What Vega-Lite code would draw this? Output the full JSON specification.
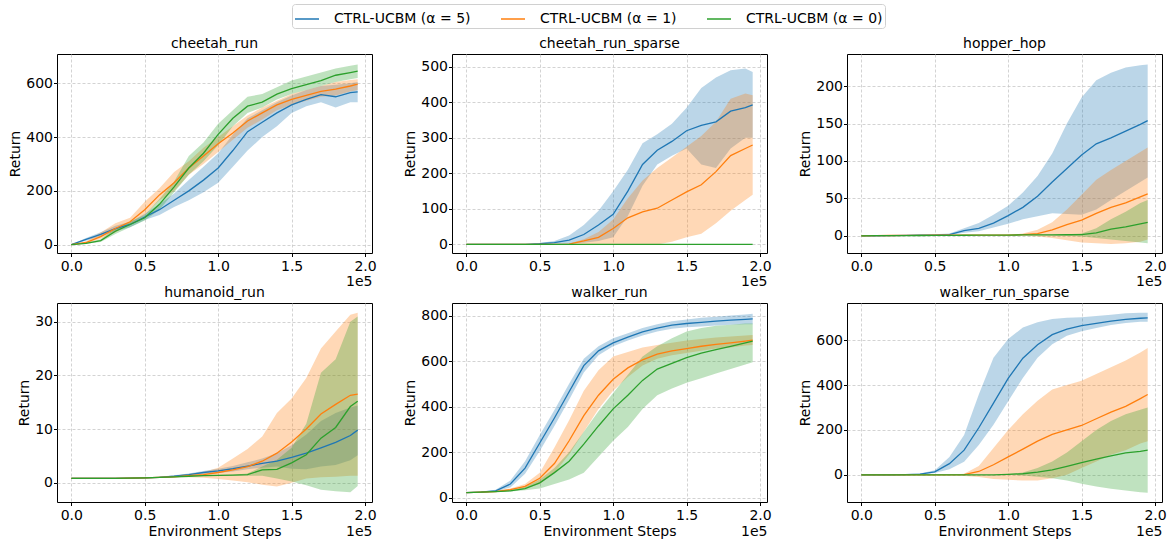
{
"$schema":"https://vega.github.io/schema/vega-lite/v6.json",
"padding":{"left":8,"top":3,"right":0,"bottom":0},
"bounds":"flush",
"columns":3,
"spacing":{"row":50,"column":80},
"data":{"values":[
{"e":"cr","s":"5","x":0,"m":0,"l":0,"h":0},
{"e":"cr","s":"5","x":10000,"m":20,"l":15,"h":25},
{"e":"cr","s":"5","x":20000,"m":38,"l":30,"h":46},
{"e":"cr","s":"5","x":30000,"m":60,"l":50,"h":70},
{"e":"cr","s":"5","x":40000,"m":75,"l":65,"h":85},
{"e":"cr","s":"5","x":50000,"m":103,"l":92,"h":115},
{"e":"cr","s":"5","x":60000,"m":130,"l":110,"h":150},
{"e":"cr","s":"5","x":70000,"m":165,"l":140,"h":190},
{"e":"cr","s":"5","x":80000,"m":200,"l":165,"h":240},
{"e":"cr","s":"5","x":90000,"m":240,"l":195,"h":290},
{"e":"cr","s":"5","x":100000,"m":285,"l":230,"h":340},
{"e":"cr","s":"5","x":110000,"m":350,"l":290,"h":410},
{"e":"cr","s":"5","x":120000,"m":420,"l":350,"h":470},
{"e":"cr","s":"5","x":130000,"m":455,"l":400,"h":500},
{"e":"cr","s":"5","x":140000,"m":490,"l":440,"h":530},
{"e":"cr","s":"5","x":150000,"m":520,"l":490,"h":555},
{"e":"cr","s":"5","x":160000,"m":540,"l":515,"h":575},
{"e":"cr","s":"5","x":170000,"m":558,"l":530,"h":590},
{"e":"cr","s":"5","x":180000,"m":550,"l":510,"h":595},
{"e":"cr","s":"5","x":190000,"m":565,"l":530,"h":600},
{"e":"cr","s":"5","x":195000,"m":568,"l":530,"h":605},
{"e":"cr","s":"1","x":0,"m":0,"l":0,"h":0},
{"e":"cr","s":"1","x":10000,"m":8,"l":4,"h":12},
{"e":"cr","s":"1","x":20000,"m":30,"l":22,"h":45},
{"e":"cr","s":"1","x":30000,"m":60,"l":45,"h":80},
{"e":"cr","s":"1","x":40000,"m":85,"l":75,"h":100},
{"e":"cr","s":"1","x":50000,"m":130,"l":110,"h":160},
{"e":"cr","s":"1","x":60000,"m":185,"l":165,"h":210},
{"e":"cr","s":"1","x":70000,"m":230,"l":200,"h":270},
{"e":"cr","s":"1","x":80000,"m":285,"l":260,"h":310},
{"e":"cr","s":"1","x":90000,"m":330,"l":300,"h":360},
{"e":"cr","s":"1","x":100000,"m":375,"l":345,"h":400},
{"e":"cr","s":"1","x":110000,"m":415,"l":390,"h":440},
{"e":"cr","s":"1","x":120000,"m":460,"l":435,"h":480},
{"e":"cr","s":"1","x":130000,"m":490,"l":465,"h":510},
{"e":"cr","s":"1","x":140000,"m":520,"l":500,"h":535},
{"e":"cr","s":"1","x":150000,"m":540,"l":520,"h":560},
{"e":"cr","s":"1","x":160000,"m":555,"l":535,"h":575},
{"e":"cr","s":"1","x":170000,"m":570,"l":550,"h":590},
{"e":"cr","s":"1","x":180000,"m":578,"l":555,"h":605},
{"e":"cr","s":"1","x":190000,"m":590,"l":570,"h":612},
{"e":"cr","s":"1","x":195000,"m":597,"l":575,"h":615},
{"e":"cr","s":"0","x":0,"m":0,"l":0,"h":0},
{"e":"cr","s":"0","x":10000,"m":5,"l":3,"h":7},
{"e":"cr","s":"0","x":20000,"m":15,"l":10,"h":20},
{"e":"cr","s":"0","x":30000,"m":50,"l":40,"h":60},
{"e":"cr","s":"0","x":40000,"m":75,"l":65,"h":85},
{"e":"cr","s":"0","x":50000,"m":100,"l":90,"h":110},
{"e":"cr","s":"0","x":60000,"m":150,"l":130,"h":170},
{"e":"cr","s":"0","x":70000,"m":215,"l":195,"h":235},
{"e":"cr","s":"0","x":80000,"m":285,"l":260,"h":330},
{"e":"cr","s":"0","x":90000,"m":340,"l":310,"h":380},
{"e":"cr","s":"0","x":100000,"m":410,"l":370,"h":450},
{"e":"cr","s":"0","x":110000,"m":470,"l":440,"h":500},
{"e":"cr","s":"0","x":120000,"m":515,"l":490,"h":550},
{"e":"cr","s":"0","x":130000,"m":530,"l":510,"h":560},
{"e":"cr","s":"0","x":140000,"m":560,"l":540,"h":585},
{"e":"cr","s":"0","x":150000,"m":580,"l":560,"h":610},
{"e":"cr","s":"0","x":160000,"m":595,"l":575,"h":625},
{"e":"cr","s":"0","x":170000,"m":610,"l":590,"h":640},
{"e":"cr","s":"0","x":180000,"m":630,"l":605,"h":655},
{"e":"cr","s":"0","x":190000,"m":640,"l":615,"h":665},
{"e":"cr","s":"0","x":195000,"m":645,"l":620,"h":670},
{"e":"crs","s":"5","x":0,"m":0,"l":0,"h":0},
{"e":"crs","s":"5","x":10000,"m":0,"l":0,"h":0},
{"e":"crs","s":"5","x":20000,"m":0,"l":0,"h":0},
{"e":"crs","s":"5","x":30000,"m":0,"l":0,"h":0},
{"e":"crs","s":"5","x":40000,"m":0,"l":0,"h":0},
{"e":"crs","s":"5","x":50000,"m":2,"l":0,"h":4},
{"e":"crs","s":"5","x":60000,"m":5,"l":0,"h":10},
{"e":"crs","s":"5","x":70000,"m":12,"l":2,"h":25},
{"e":"crs","s":"5","x":80000,"m":28,"l":5,"h":55},
{"e":"crs","s":"5","x":90000,"m":55,"l":10,"h":95},
{"e":"crs","s":"5","x":100000,"m":85,"l":20,"h":150},
{"e":"crs","s":"5","x":110000,"m":150,"l":80,"h":210},
{"e":"crs","s":"5","x":120000,"m":225,"l":165,"h":285},
{"e":"crs","s":"5","x":130000,"m":265,"l":225,"h":310},
{"e":"crs","s":"5","x":140000,"m":290,"l":250,"h":340},
{"e":"crs","s":"5","x":150000,"m":320,"l":270,"h":385},
{"e":"crs","s":"5","x":160000,"m":335,"l":225,"h":440},
{"e":"crs","s":"5","x":170000,"m":345,"l":215,"h":470},
{"e":"crs","s":"5","x":180000,"m":375,"l":270,"h":490},
{"e":"crs","s":"5","x":190000,"m":385,"l":300,"h":495},
{"e":"crs","s":"5","x":195000,"m":393,"l":300,"h":485},
{"e":"crs","s":"1","x":0,"m":0,"l":0,"h":0},
{"e":"crs","s":"1","x":10000,"m":0,"l":0,"h":0},
{"e":"crs","s":"1","x":20000,"m":0,"l":0,"h":0},
{"e":"crs","s":"1","x":30000,"m":0,"l":0,"h":0},
{"e":"crs","s":"1","x":40000,"m":0,"l":0,"h":0},
{"e":"crs","s":"1","x":50000,"m":0,"l":0,"h":0},
{"e":"crs","s":"1","x":60000,"m":0,"l":0,"h":0},
{"e":"crs","s":"1","x":70000,"m":1,"l":0,"h":3},
{"e":"crs","s":"1","x":80000,"m":10,"l":0,"h":15},
{"e":"crs","s":"1","x":90000,"m":20,"l":0,"h":35},
{"e":"crs","s":"1","x":100000,"m":45,"l":0,"h":70},
{"e":"crs","s":"1","x":110000,"m":75,"l":0,"h":130},
{"e":"crs","s":"1","x":120000,"m":92,"l":0,"h":180},
{"e":"crs","s":"1","x":130000,"m":102,"l":0,"h":215},
{"e":"crs","s":"1","x":140000,"m":125,"l":8,"h":245},
{"e":"crs","s":"1","x":150000,"m":148,"l":20,"h":275},
{"e":"crs","s":"1","x":160000,"m":168,"l":30,"h":305},
{"e":"crs","s":"1","x":170000,"m":205,"l":60,"h":345},
{"e":"crs","s":"1","x":180000,"m":250,"l":95,"h":410},
{"e":"crs","s":"1","x":190000,"m":270,"l":125,"h":425},
{"e":"crs","s":"1","x":195000,"m":280,"l":140,"h":420},
{"e":"crs","s":"0","x":0,"m":0,"l":0,"h":0},
{"e":"crs","s":"0","x":10000,"m":0,"l":0,"h":0},
{"e":"crs","s":"0","x":20000,"m":0,"l":0,"h":0},
{"e":"crs","s":"0","x":30000,"m":0,"l":0,"h":0},
{"e":"crs","s":"0","x":40000,"m":0,"l":0,"h":0},
{"e":"crs","s":"0","x":50000,"m":0,"l":0,"h":0},
{"e":"crs","s":"0","x":60000,"m":0,"l":0,"h":0},
{"e":"crs","s":"0","x":70000,"m":0,"l":0,"h":0},
{"e":"crs","s":"0","x":80000,"m":0,"l":0,"h":0},
{"e":"crs","s":"0","x":90000,"m":0,"l":0,"h":0},
{"e":"crs","s":"0","x":100000,"m":0,"l":0,"h":0},
{"e":"crs","s":"0","x":110000,"m":0,"l":0,"h":0},
{"e":"crs","s":"0","x":120000,"m":0,"l":0,"h":0},
{"e":"crs","s":"0","x":130000,"m":0,"l":0,"h":0},
{"e":"crs","s":"0","x":140000,"m":0,"l":0,"h":0},
{"e":"crs","s":"0","x":150000,"m":0,"l":0,"h":0},
{"e":"crs","s":"0","x":160000,"m":0,"l":0,"h":0},
{"e":"crs","s":"0","x":170000,"m":0,"l":0,"h":0},
{"e":"crs","s":"0","x":180000,"m":0,"l":0,"h":0},
{"e":"crs","s":"0","x":190000,"m":0,"l":0,"h":0},
{"e":"crs","s":"0","x":195000,"m":0,"l":0,"h":0},
{"e":"hh","s":"5","x":0,"m":0,"l":0,"h":0},
{"e":"hh","s":"5","x":10000,"m":0,"l":0,"h":0},
{"e":"hh","s":"5","x":20000,"m":0.2,"l":0,"h":0.5},
{"e":"hh","s":"5","x":30000,"m":0.5,"l":0.2,"h":1},
{"e":"hh","s":"5","x":40000,"m":0.8,"l":0.4,"h":1.5},
{"e":"hh","s":"5","x":50000,"m":1,"l":0.5,"h":2},
{"e":"hh","s":"5","x":60000,"m":1.5,"l":0.8,"h":3},
{"e":"hh","s":"5","x":70000,"m":7,"l":4,"h":10},
{"e":"hh","s":"5","x":80000,"m":10,"l":6,"h":17},
{"e":"hh","s":"5","x":90000,"m":17,"l":11,"h":28},
{"e":"hh","s":"5","x":100000,"m":27,"l":16,"h":40},
{"e":"hh","s":"5","x":110000,"m":38,"l":22,"h":58},
{"e":"hh","s":"5","x":120000,"m":53,"l":26,"h":80},
{"e":"hh","s":"5","x":130000,"m":72,"l":30,"h":110},
{"e":"hh","s":"5","x":140000,"m":90,"l":29,"h":150},
{"e":"hh","s":"5","x":150000,"m":108,"l":28,"h":185},
{"e":"hh","s":"5","x":160000,"m":123,"l":35,"h":208},
{"e":"hh","s":"5","x":170000,"m":131,"l":48,"h":218},
{"e":"hh","s":"5","x":180000,"m":140,"l":60,"h":225},
{"e":"hh","s":"5","x":190000,"m":149,"l":72,"h":228},
{"e":"hh","s":"5","x":195000,"m":154,"l":78,"h":229},
{"e":"hh","s":"1","x":0,"m":0,"l":0,"h":0},
{"e":"hh","s":"1","x":10000,"m":0.2,"l":0.1,"h":0.3},
{"e":"hh","s":"1","x":20000,"m":0.4,"l":0.2,"h":0.6},
{"e":"hh","s":"1","x":30000,"m":0.5,"l":0.3,"h":0.7},
{"e":"hh","s":"1","x":40000,"m":0.6,"l":0.4,"h":0.8},
{"e":"hh","s":"1","x":50000,"m":0.7,"l":0.5,"h":0.9},
{"e":"hh","s":"1","x":60000,"m":0.8,"l":0.6,"h":1},
{"e":"hh","s":"1","x":70000,"m":0.9,"l":0.7,"h":1.1},
{"e":"hh","s":"1","x":80000,"m":1,"l":0.8,"h":1.2},
{"e":"hh","s":"1","x":90000,"m":1,"l":0.8,"h":1.2},
{"e":"hh","s":"1","x":100000,"m":1,"l":0.8,"h":1.3},
{"e":"hh","s":"1","x":110000,"m":1.5,"l":0,"h":3},
{"e":"hh","s":"1","x":120000,"m":3,"l":-1,"h":8},
{"e":"hh","s":"1","x":130000,"m":8,"l":-3,"h":18},
{"e":"hh","s":"1","x":140000,"m":15,"l":-6,"h":35},
{"e":"hh","s":"1","x":150000,"m":21,"l":-9,"h":55},
{"e":"hh","s":"1","x":160000,"m":30,"l":-10,"h":75},
{"e":"hh","s":"1","x":170000,"m":38,"l":-11,"h":88},
{"e":"hh","s":"1","x":180000,"m":44,"l":-10,"h":100},
{"e":"hh","s":"1","x":190000,"m":52,"l":-8,"h":112},
{"e":"hh","s":"1","x":195000,"m":56,"l":-5,"h":118},
{"e":"hh","s":"0","x":0,"m":0,"l":0,"h":0},
{"e":"hh","s":"0","x":10000,"m":0.1,"l":0,"h":0.2},
{"e":"hh","s":"0","x":20000,"m":0.2,"l":0.1,"h":0.3},
{"e":"hh","s":"0","x":30000,"m":0.3,"l":0.2,"h":0.4},
{"e":"hh","s":"0","x":40000,"m":0.4,"l":0.3,"h":0.5},
{"e":"hh","s":"0","x":50000,"m":0.5,"l":0.4,"h":0.6},
{"e":"hh","s":"0","x":60000,"m":0.6,"l":0.5,"h":0.7},
{"e":"hh","s":"0","x":70000,"m":0.7,"l":0.6,"h":0.8},
{"e":"hh","s":"0","x":80000,"m":0.8,"l":0.7,"h":0.9},
{"e":"hh","s":"0","x":90000,"m":0.9,"l":0.7,"h":1.1},
{"e":"hh","s":"0","x":100000,"m":1,"l":0.8,"h":1.2},
{"e":"hh","s":"0","x":110000,"m":1.1,"l":0.8,"h":1.4},
{"e":"hh","s":"0","x":120000,"m":1.2,"l":0.8,"h":1.6},
{"e":"hh","s":"0","x":130000,"m":1.3,"l":0.5,"h":1.8},
{"e":"hh","s":"0","x":140000,"m":1.4,"l":0,"h":2},
{"e":"hh","s":"0","x":150000,"m":1.5,"l":-1,"h":3},
{"e":"hh","s":"0","x":160000,"m":4,"l":-3,"h":10},
{"e":"hh","s":"0","x":170000,"m":9,"l":-5,"h":22},
{"e":"hh","s":"0","x":180000,"m":12,"l":-7,"h":32},
{"e":"hh","s":"0","x":190000,"m":16,"l":-9,"h":44},
{"e":"hh","s":"0","x":195000,"m":18,"l":-10,"h":48},
{"e":"hr","s":"5","x":0,"m":0.8,"l":0.7,"h":0.9},
{"e":"hr","s":"5","x":10000,"m":0.8,"l":0.7,"h":0.9},
{"e":"hr","s":"5","x":20000,"m":0.8,"l":0.7,"h":0.9},
{"e":"hr","s":"5","x":30000,"m":0.8,"l":0.7,"h":0.9},
{"e":"hr","s":"5","x":40000,"m":0.85,"l":0.75,"h":0.95},
{"e":"hr","s":"5","x":50000,"m":0.9,"l":0.8,"h":1.0},
{"e":"hr","s":"5","x":60000,"m":1.0,"l":0.9,"h":1.1},
{"e":"hr","s":"5","x":70000,"m":1.2,"l":1.0,"h":1.4},
{"e":"hr","s":"5","x":80000,"m":1.5,"l":1.3,"h":1.7},
{"e":"hr","s":"5","x":90000,"m":1.9,"l":1.6,"h":2.2},
{"e":"hr","s":"5","x":100000,"m":2.2,"l":1.8,"h":2.6},
{"e":"hr","s":"5","x":110000,"m":2.6,"l":2.1,"h":3.1},
{"e":"hr","s":"5","x":120000,"m":3.1,"l":2.5,"h":3.8},
{"e":"hr","s":"5","x":130000,"m":3.6,"l":2.8,"h":4.5},
{"e":"hr","s":"5","x":140000,"m":4.0,"l":3.0,"h":5.5},
{"e":"hr","s":"5","x":150000,"m":4.7,"l":2.6,"h":7.0},
{"e":"hr","s":"5","x":160000,"m":5.5,"l":2.5,"h":9.0},
{"e":"hr","s":"5","x":170000,"m":6.5,"l":3.0,"h":11.5},
{"e":"hr","s":"5","x":180000,"m":7.5,"l":3.3,"h":13.0},
{"e":"hr","s":"5","x":190000,"m":8.8,"l":4.2,"h":14.0},
{"e":"hr","s":"5","x":195000,"m":9.8,"l":5.1,"h":14.4},
{"e":"hr","s":"1","x":0,"m":0.8,"l":0.7,"h":0.9},
{"e":"hr","s":"1","x":10000,"m":0.8,"l":0.7,"h":0.9},
{"e":"hr","s":"1","x":20000,"m":0.8,"l":0.7,"h":0.9},
{"e":"hr","s":"1","x":30000,"m":0.8,"l":0.7,"h":0.9},
{"e":"hr","s":"1","x":40000,"m":0.85,"l":0.75,"h":0.95},
{"e":"hr","s":"1","x":50000,"m":0.9,"l":0.8,"h":1.0},
{"e":"hr","s":"1","x":60000,"m":1.0,"l":0.9,"h":1.1},
{"e":"hr","s":"1","x":70000,"m":1.1,"l":1.0,"h":1.3},
{"e":"hr","s":"1","x":80000,"m":1.3,"l":1.0,"h":1.6},
{"e":"hr","s":"1","x":90000,"m":1.5,"l":0.9,"h":2.0},
{"e":"hr","s":"1","x":100000,"m":1.9,"l":0.7,"h":2.8},
{"e":"hr","s":"1","x":110000,"m":2.4,"l":0.4,"h":4.5},
{"e":"hr","s":"1","x":120000,"m":3.0,"l":0.1,"h":6.3},
{"e":"hr","s":"1","x":130000,"m":4.0,"l":-0.4,"h":8.6},
{"e":"hr","s":"1","x":140000,"m":5.5,"l":-0.7,"h":13.0},
{"e":"hr","s":"1","x":150000,"m":7.6,"l":0.0,"h":15.7},
{"e":"hr","s":"1","x":160000,"m":10.0,"l":0.8,"h":19.5},
{"e":"hr","s":"1","x":170000,"m":12.8,"l":1.0,"h":25.0},
{"e":"hr","s":"1","x":180000,"m":14.6,"l":1.1,"h":28.2},
{"e":"hr","s":"1","x":190000,"m":16.3,"l":1.3,"h":31.3},
{"e":"hr","s":"1","x":195000,"m":16.5,"l":1.3,"h":31.7},
{"e":"hr","s":"0","x":0,"m":0.8,"l":0.7,"h":0.9},
{"e":"hr","s":"0","x":10000,"m":0.8,"l":0.7,"h":0.9},
{"e":"hr","s":"0","x":20000,"m":0.8,"l":0.7,"h":0.9},
{"e":"hr","s":"0","x":30000,"m":0.8,"l":0.7,"h":0.9},
{"e":"hr","s":"0","x":40000,"m":0.85,"l":0.75,"h":0.95},
{"e":"hr","s":"0","x":50000,"m":0.9,"l":0.8,"h":1.0},
{"e":"hr","s":"0","x":60000,"m":1.0,"l":0.9,"h":1.1},
{"e":"hr","s":"0","x":70000,"m":1.1,"l":1.0,"h":1.2},
{"e":"hr","s":"0","x":80000,"m":1.2,"l":1.1,"h":1.3},
{"e":"hr","s":"0","x":90000,"m":1.3,"l":1.2,"h":1.4},
{"e":"hr","s":"0","x":100000,"m":1.35,"l":1.25,"h":1.45},
{"e":"hr","s":"0","x":110000,"m":1.4,"l":1.3,"h":1.5},
{"e":"hr","s":"0","x":120000,"m":1.5,"l":1.3,"h":1.7},
{"e":"hr","s":"0","x":130000,"m":2.4,"l":1.3,"h":3.0},
{"e":"hr","s":"0","x":140000,"m":2.5,"l":0.8,"h":4.3},
{"e":"hr","s":"0","x":150000,"m":3.7,"l":0.2,"h":6.5},
{"e":"hr","s":"0","x":160000,"m":5.2,"l":-0.5,"h":11},
{"e":"hr","s":"0","x":170000,"m":8.3,"l":-1.3,"h":20.5},
{"e":"hr","s":"0","x":180000,"m":10.3,"l":-1.6,"h":23},
{"e":"hr","s":"0","x":190000,"m":14.2,"l":-1.8,"h":30},
{"e":"hr","s":"0","x":195000,"m":15.2,"l":-0.6,"h":31},
{"e":"wr","s":"5","x":0,"m":22,"l":20,"h":24},
{"e":"wr","s":"5","x":10000,"m":24,"l":22,"h":27},
{"e":"wr","s":"5","x":20000,"m":30,"l":27,"h":35},
{"e":"wr","s":"5","x":30000,"m":60,"l":45,"h":75},
{"e":"wr","s":"5","x":40000,"m":130,"l":105,"h":160},
{"e":"wr","s":"5","x":50000,"m":240,"l":205,"h":275},
{"e":"wr","s":"5","x":60000,"m":350,"l":315,"h":385},
{"e":"wr","s":"5","x":70000,"m":465,"l":430,"h":500},
{"e":"wr","s":"5","x":80000,"m":580,"l":550,"h":610},
{"e":"wr","s":"5","x":90000,"m":645,"l":625,"h":665},
{"e":"wr","s":"5","x":100000,"m":680,"l":665,"h":700},
{"e":"wr","s":"5","x":110000,"m":705,"l":690,"h":722},
{"e":"wr","s":"5","x":120000,"m":728,"l":712,"h":745},
{"e":"wr","s":"5","x":130000,"m":745,"l":730,"h":762},
{"e":"wr","s":"5","x":140000,"m":758,"l":742,"h":775},
{"e":"wr","s":"5","x":150000,"m":765,"l":748,"h":782},
{"e":"wr","s":"5","x":160000,"m":770,"l":752,"h":790},
{"e":"wr","s":"5","x":170000,"m":775,"l":756,"h":795},
{"e":"wr","s":"5","x":180000,"m":780,"l":760,"h":800},
{"e":"wr","s":"5","x":190000,"m":783,"l":762,"h":805},
{"e":"wr","s":"5","x":195000,"m":785,"l":762,"h":808},
{"e":"wr","s":"1","x":0,"m":22,"l":20,"h":24},
{"e":"wr","s":"1","x":10000,"m":24,"l":22,"h":26},
{"e":"wr","s":"1","x":20000,"m":27,"l":25,"h":30},
{"e":"wr","s":"1","x":30000,"m":35,"l":30,"h":40},
{"e":"wr","s":"1","x":40000,"m":50,"l":40,"h":60},
{"e":"wr","s":"1","x":50000,"m":85,"l":60,"h":110},
{"e":"wr","s":"1","x":60000,"m":150,"l":110,"h":220},
{"e":"wr","s":"1","x":70000,"m":250,"l":190,"h":340},
{"e":"wr","s":"1","x":80000,"m":360,"l":290,"h":470},
{"e":"wr","s":"1","x":90000,"m":450,"l":390,"h":560},
{"e":"wr","s":"1","x":100000,"m":520,"l":470,"h":620},
{"e":"wr","s":"1","x":110000,"m":570,"l":530,"h":640},
{"e":"wr","s":"1","x":120000,"m":605,"l":580,"h":660},
{"e":"wr","s":"1","x":130000,"m":630,"l":610,"h":670},
{"e":"wr","s":"1","x":140000,"m":645,"l":625,"h":680},
{"e":"wr","s":"1","x":150000,"m":655,"l":635,"h":690},
{"e":"wr","s":"1","x":160000,"m":665,"l":645,"h":697},
{"e":"wr","s":"1","x":170000,"m":673,"l":655,"h":703},
{"e":"wr","s":"1","x":180000,"m":680,"l":660,"h":708},
{"e":"wr","s":"1","x":190000,"m":688,"l":668,"h":712},
{"e":"wr","s":"1","x":195000,"m":692,"l":670,"h":715},
{"e":"wr","s":"0","x":0,"m":22,"l":20,"h":24},
{"e":"wr","s":"0","x":10000,"m":24,"l":22,"h":26},
{"e":"wr","s":"0","x":20000,"m":27,"l":25,"h":30},
{"e":"wr","s":"0","x":30000,"m":30,"l":27,"h":33},
{"e":"wr","s":"0","x":40000,"m":40,"l":33,"h":48},
{"e":"wr","s":"0","x":50000,"m":65,"l":40,"h":80},
{"e":"wr","s":"0","x":60000,"m":110,"l":60,"h":130},
{"e":"wr","s":"0","x":70000,"m":160,"l":80,"h":200},
{"e":"wr","s":"0","x":80000,"m":235,"l":110,"h":290},
{"e":"wr","s":"0","x":90000,"m":315,"l":180,"h":380},
{"e":"wr","s":"0","x":100000,"m":390,"l":250,"h":460},
{"e":"wr","s":"0","x":110000,"m":450,"l":310,"h":540},
{"e":"wr","s":"0","x":120000,"m":515,"l":390,"h":620},
{"e":"wr","s":"0","x":130000,"m":565,"l":450,"h":665},
{"e":"wr","s":"0","x":140000,"m":590,"l":480,"h":700},
{"e":"wr","s":"0","x":150000,"m":615,"l":505,"h":730},
{"e":"wr","s":"0","x":160000,"m":635,"l":525,"h":745},
{"e":"wr","s":"0","x":170000,"m":650,"l":545,"h":755},
{"e":"wr","s":"0","x":180000,"m":665,"l":565,"h":760},
{"e":"wr","s":"0","x":190000,"m":680,"l":585,"h":765},
{"e":"wr","s":"0","x":195000,"m":688,"l":595,"h":765},
{"e":"wrs","s":"5","x":0,"m":0,"l":0,"h":0},
{"e":"wrs","s":"5","x":10000,"m":0,"l":0,"h":0},
{"e":"wrs","s":"5","x":20000,"m":0,"l":0,"h":0},
{"e":"wrs","s":"5","x":30000,"m":1,"l":0,"h":2},
{"e":"wrs","s":"5","x":40000,"m":3,"l":1,"h":6},
{"e":"wrs","s":"5","x":50000,"m":13,"l":8,"h":20},
{"e":"wrs","s":"5","x":60000,"m":50,"l":25,"h":80},
{"e":"wrs","s":"5","x":70000,"m":110,"l":58,"h":178},
{"e":"wrs","s":"5","x":80000,"m":210,"l":133,"h":358},
{"e":"wrs","s":"5","x":90000,"m":320,"l":223,"h":522},
{"e":"wrs","s":"5","x":100000,"m":430,"l":328,"h":605},
{"e":"wrs","s":"5","x":110000,"m":520,"l":432,"h":657},
{"e":"wrs","s":"5","x":120000,"m":580,"l":522,"h":680},
{"e":"wrs","s":"5","x":130000,"m":625,"l":582,"h":695},
{"e":"wrs","s":"5","x":140000,"m":650,"l":620,"h":700},
{"e":"wrs","s":"5","x":150000,"m":665,"l":640,"h":703},
{"e":"wrs","s":"5","x":160000,"m":675,"l":655,"h":708},
{"e":"wrs","s":"5","x":170000,"m":685,"l":668,"h":714},
{"e":"wrs","s":"5","x":180000,"m":693,"l":677,"h":720},
{"e":"wrs","s":"5","x":190000,"m":698,"l":682,"h":722},
{"e":"wrs","s":"5","x":195000,"m":700,"l":682,"h":722},
{"e":"wrs","s":"1","x":0,"m":0,"l":0,"h":0},
{"e":"wrs","s":"1","x":10000,"m":0,"l":0,"h":0},
{"e":"wrs","s":"1","x":20000,"m":0,"l":0,"h":0},
{"e":"wrs","s":"1","x":30000,"m":0,"l":0,"h":0},
{"e":"wrs","s":"1","x":40000,"m":0,"l":0,"h":0},
{"e":"wrs","s":"1","x":50000,"m":0,"l":0,"h":0},
{"e":"wrs","s":"1","x":60000,"m":0,"l":0,"h":0},
{"e":"wrs","s":"1","x":70000,"m":1,"l":-5,"h":5},
{"e":"wrs","s":"1","x":80000,"m":15,"l":-10,"h":40},
{"e":"wrs","s":"1","x":90000,"m":45,"l":-18,"h":120},
{"e":"wrs","s":"1","x":100000,"m":80,"l":-22,"h":200},
{"e":"wrs","s":"1","x":110000,"m":115,"l":-25,"h":270},
{"e":"wrs","s":"1","x":120000,"m":150,"l":-25,"h":330},
{"e":"wrs","s":"1","x":130000,"m":180,"l":-15,"h":380},
{"e":"wrs","s":"1","x":140000,"m":200,"l":0,"h":400},
{"e":"wrs","s":"1","x":150000,"m":220,"l":30,"h":420},
{"e":"wrs","s":"1","x":160000,"m":250,"l":60,"h":450},
{"e":"wrs","s":"1","x":170000,"m":280,"l":90,"h":480},
{"e":"wrs","s":"1","x":180000,"m":305,"l":110,"h":510},
{"e":"wrs","s":"1","x":190000,"m":340,"l":140,"h":545},
{"e":"wrs","s":"1","x":195000,"m":358,"l":150,"h":565},
{"e":"wrs","s":"0","x":0,"m":0,"l":0,"h":0},
{"e":"wrs","s":"0","x":10000,"m":0,"l":0,"h":0},
{"e":"wrs","s":"0","x":20000,"m":0,"l":0,"h":0},
{"e":"wrs","s":"0","x":30000,"m":0,"l":0,"h":0},
{"e":"wrs","s":"0","x":40000,"m":0,"l":0,"h":0},
{"e":"wrs","s":"0","x":50000,"m":0,"l":0,"h":0},
{"e":"wrs","s":"0","x":60000,"m":0,"l":0,"h":0},
{"e":"wrs","s":"0","x":70000,"m":0,"l":0,"h":0},
{"e":"wrs","s":"0","x":80000,"m":0,"l":0,"h":0},
{"e":"wrs","s":"0","x":90000,"m":0,"l":0,"h":0},
{"e":"wrs","s":"0","x":100000,"m":2,"l":0,"h":4},
{"e":"wrs","s":"0","x":110000,"m":5,"l":-3,"h":10},
{"e":"wrs","s":"0","x":120000,"m":12,"l":-8,"h":30},
{"e":"wrs","s":"0","x":130000,"m":22,"l":-15,"h":60},
{"e":"wrs","s":"0","x":140000,"m":38,"l":-25,"h":100},
{"e":"wrs","s":"0","x":150000,"m":55,"l":-40,"h":150},
{"e":"wrs","s":"0","x":160000,"m":70,"l":-52,"h":200},
{"e":"wrs","s":"0","x":170000,"m":85,"l":-62,"h":240},
{"e":"wrs","s":"0","x":180000,"m":98,"l":-70,"h":270},
{"e":"wrs","s":"0","x":190000,"m":105,"l":-77,"h":290},
{"e":"wrs","s":"0","x":195000,"m":110,"l":-80,"h":300}
]},
"concat":[
{"width":315,"height":199,"title":"cheetah_run","transform":[{"filter":"datum.e==='cr'"}],
 "encoding":{"x":{"field":"x","type":"quantitative","scale":{"domain":[-9750,204750],"nice":false,"zero":false},"axis":{"title":"1e5","titleAnchor":"end","titlePadding":1,"values":[0,50000,100000,150000,200000],"labelExpr":"format(datum.value/100000,'.1f')"}},
  "color":{"field":"s","type":"nominal","scale":{"domain":["5","1","0"],"range":["#1f77b4","#ff7f0e","#2ca02c"]},"legend":{"orient":"none","legendX":235,"legendY":-50,"direction":"horizontal","title":null,"symbolType":"stroke","labelExpr":"'CTRL-UCBM (α = ' + datum.label + ')'"}}},
 "layer":[
  {"mark":{"type":"area","fillOpacity":0.3},"encoding":{"y":{"field":"l","type":"quantitative","scale":{"domain":[-31,709],"nice":false,"zero":false},"axis":{"title":"Return","values":[0,200,400,600]}},"y2":{"field":"h"}}},
  {"mark":{"type":"line","strokeWidth":1.3},"encoding":{"y":{"field":"m","type":"quantitative","scale":{"domain":[-31,709],"nice":false,"zero":false},"axis":{"title":"Return","values":[0,200,400,600]}}}}
 ]},
{"width":315,"height":199,"title":"cheetah_run_sparse","transform":[{"filter":"datum.e==='crs'"}],
 "encoding":{"x":{"field":"x","type":"quantitative","scale":{"domain":[-9750,204750],"nice":false,"zero":false},"axis":{"title":"1e5","titleAnchor":"end","titlePadding":1,"values":[0,50000,100000,150000,200000],"labelExpr":"format(datum.value/100000,'.1f')"}},
  "color":{"field":"s","type":"nominal","scale":{"domain":["5","1","0"],"range":["#1f77b4","#ff7f0e","#2ca02c"]},"legend":{"orient":"none","legendX":235,"legendY":-50,"direction":"horizontal","title":null,"symbolType":"stroke","labelExpr":"'CTRL-UCBM (α = ' + datum.label + ')'"}}},
 "layer":[
  {"mark":{"type":"area","fillOpacity":0.3},"encoding":{"y":{"field":"l","type":"quantitative","scale":{"domain":[-24,536],"nice":false,"zero":false},"axis":{"title":"Return","values":[0,100,200,300,400,500]}},"y2":{"field":"h"}}},
  {"mark":{"type":"line","strokeWidth":1.3},"encoding":{"y":{"field":"m","type":"quantitative","scale":{"domain":[-24,536],"nice":false,"zero":false},"axis":{"title":"Return","values":[0,100,200,300,400,500]}}}}
 ]},
{"width":315,"height":199,"title":"hopper_hop","transform":[{"filter":"datum.e==='hh'"}],
 "encoding":{"x":{"field":"x","type":"quantitative","scale":{"domain":[-9750,204750],"nice":false,"zero":false},"axis":{"title":"1e5","titleAnchor":"end","titlePadding":1,"values":[0,50000,100000,150000,200000],"labelExpr":"format(datum.value/100000,'.1f')"}},
  "color":{"field":"s","type":"nominal","scale":{"domain":["5","1","0"],"range":["#1f77b4","#ff7f0e","#2ca02c"]},"legend":{"orient":"none","legendX":235,"legendY":-50,"direction":"horizontal","title":null,"symbolType":"stroke","labelExpr":"'CTRL-UCBM (α = ' + datum.label + ')'"}}},
 "layer":[
  {"mark":{"type":"area","fillOpacity":0.3},"encoding":{"y":{"field":"l","type":"quantitative","scale":{"domain":[-23,243],"nice":false,"zero":false},"axis":{"title":"Return","values":[0,50,100,150,200]}},"y2":{"field":"h"}}},
  {"mark":{"type":"line","strokeWidth":1.3},"encoding":{"y":{"field":"m","type":"quantitative","scale":{"domain":[-23,243],"nice":false,"zero":false},"axis":{"title":"Return","values":[0,50,100,150,200]}}}}
 ]},
{"width":315,"height":199,"title":"humanoid_run","transform":[{"filter":"datum.e==='hr'"}],
 "resolve":{"axis":{"x":"independent"}},
 "encoding":{"color":{"field":"s","type":"nominal","scale":{"domain":["5","1","0"],"range":["#1f77b4","#ff7f0e","#2ca02c"]},"legend":{"orient":"none","legendX":235,"legendY":-50,"direction":"horizontal","title":null,"symbolType":"stroke","labelExpr":"'CTRL-UCBM (α = ' + datum.label + ')'"}}},
 "layer":[
  {"mark":{"type":"area","fillOpacity":0.3},"encoding":{"x":{"field":"x","type":"quantitative","scale":{"domain":[-9750,204750],"nice":false,"zero":false},"axis":{"orient":"bottom","title":"Environment Steps","values":[0,50000,100000,150000,200000],"labelExpr":"format(datum.value/100000,'.1f')"}},"y":{"field":"l","type":"quantitative","scale":{"domain":[-3.6,33.5],"nice":false,"zero":false},"axis":{"title":"Return","values":[0,10,20,30]}},"y2":{"field":"h"}}},
  {"mark":{"type":"line","strokeWidth":1.3},"encoding":{"x":{"field":"x","type":"quantitative","scale":{"domain":[-9750,204750],"nice":false,"zero":false},"axis":{"orient":"bottom","title":"1e5","titleAnchor":"end","labels":false,"ticks":false,"grid":false,"titlePadding":22}},"y":{"field":"m","type":"quantitative","scale":{"domain":[-3.6,33.5],"nice":false,"zero":false},"axis":{"title":"Return","values":[0,10,20,30]}}}}
 ]},
{"width":315,"height":199,"title":"walker_run","transform":[{"filter":"datum.e==='wr'"}],
 "resolve":{"axis":{"x":"independent"}},
 "encoding":{"color":{"field":"s","type":"nominal","scale":{"domain":["5","1","0"],"range":["#1f77b4","#ff7f0e","#2ca02c"]},"legend":{"orient":"none","legendX":235,"legendY":-50,"direction":"horizontal","title":null,"symbolType":"stroke","labelExpr":"'CTRL-UCBM (α = ' + datum.label + ')'"}}},
 "layer":[
  {"mark":{"type":"area","fillOpacity":0.3},"encoding":{"x":{"field":"x","type":"quantitative","scale":{"domain":[-9750,204750],"nice":false,"zero":false},"axis":{"orient":"bottom","title":"Environment Steps","values":[0,50000,100000,150000,200000],"labelExpr":"format(datum.value/100000,'.1f')"}},"y":{"field":"l","type":"quantitative","scale":{"domain":[-19,855],"nice":false,"zero":false},"axis":{"title":"Return","values":[0,200,400,600,800]}},"y2":{"field":"h"}}},
  {"mark":{"type":"line","strokeWidth":1.3},"encoding":{"x":{"field":"x","type":"quantitative","scale":{"domain":[-9750,204750],"nice":false,"zero":false},"axis":{"orient":"bottom","title":"1e5","titleAnchor":"end","labels":false,"ticks":false,"grid":false,"titlePadding":22}},"y":{"field":"m","type":"quantitative","scale":{"domain":[-19,855],"nice":false,"zero":false},"axis":{"title":"Return","values":[0,200,400,600,800]}}}}
 ]},
{"width":315,"height":199,"title":"walker_run_sparse","transform":[{"filter":"datum.e==='wrs'"}],
 "resolve":{"axis":{"x":"independent"}},
 "encoding":{"color":{"field":"s","type":"nominal","scale":{"domain":["5","1","0"],"range":["#1f77b4","#ff7f0e","#2ca02c"]},"legend":{"orient":"none","legendX":235,"legendY":-50,"direction":"horizontal","title":null,"symbolType":"stroke","labelExpr":"'CTRL-UCBM (α = ' + datum.label + ')'"}}},
 "layer":[
  {"mark":{"type":"area","fillOpacity":0.3},"encoding":{"x":{"field":"x","type":"quantitative","scale":{"domain":[-9750,204750],"nice":false,"zero":false},"axis":{"orient":"bottom","title":"Environment Steps","values":[0,50000,100000,150000,200000],"labelExpr":"format(datum.value/100000,'.1f')"}},"y":{"field":"l","type":"quantitative","scale":{"domain":[-121,766],"nice":false,"zero":false},"axis":{"title":"Return","values":[0,200,400,600]}},"y2":{"field":"h"}}},
  {"mark":{"type":"line","strokeWidth":1.3},"encoding":{"x":{"field":"x","type":"quantitative","scale":{"domain":[-9750,204750],"nice":false,"zero":false},"axis":{"orient":"bottom","title":"1e5","titleAnchor":"end","labels":false,"ticks":false,"grid":false,"titlePadding":22}},"y":{"field":"m","type":"quantitative","scale":{"domain":[-121,766],"nice":false,"zero":false},"axis":{"title":"Return","values":[0,200,400,600]}}}}
 ]}
],
"config":{
 "font":"DejaVu Sans",
 "view":{"stroke":"black","strokeWidth":1},
 "axis":{"domain":false,"labelFont":"DejaVu Sans","labelFontSize":14,"labelColor":"black","tickColor":"black","tickSize":3.5,"labelOverlap":false,"titleFont":"DejaVu Sans","titleFontSize":14,"titleFontWeight":"normal","titleColor":"black","grid":true,"gridColor":"#c8c8c8","gridDash":[3,2],"gridWidth":0.8},
 "axisY":{"labelPadding":1,"titlePadding":3},
 "axisX":{"labelPadding":2.5,"titlePadding":2,"labelFlush":false},
 "title":{"font":"DejaVu Sans","fontSize":14,"fontWeight":"normal","color":"black","offset":3},
 "legend":{"symbolType":"stroke","symbolSize":576,"symbolStrokeWidth":1.5,"symbolOpacity":1,"labelFont":"DejaVu Sans","labelFontSize":14,"labelColor":"black","labelOffset":14,"columnPadding":27,"padding":2,"strokeColor":"#d0d0d0","fillColor":"white","cornerRadius":3}
}
}
